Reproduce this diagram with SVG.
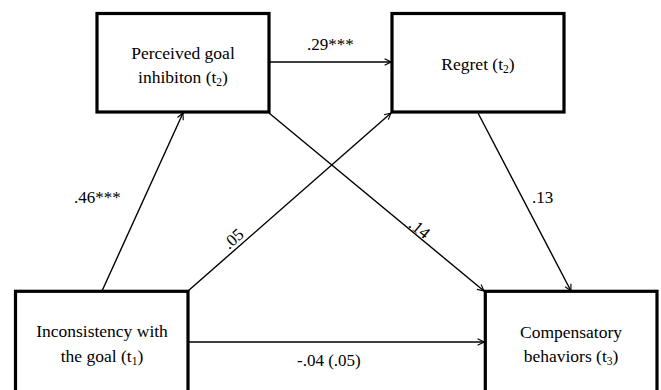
<svg xmlns="http://www.w3.org/2000/svg" width="661" height="390" viewBox="0 0 661 390">
<defs>
<marker id="ah" viewBox="0 0 10 10" refX="9" refY="5" markerWidth="8" markerHeight="8" markerUnits="userSpaceOnUse" orient="auto">
<path d="M1,1 L9,5 L1,9" fill="none" stroke="#000" stroke-width="1.4"/>
</marker>
<style>
.box{fill:#fff;stroke:#000;stroke-width:3.2}
.t{font-size:17.5px;fill:#000;text-anchor:middle}
.lbl{font-size:17px;fill:#000}
.c{fill:none;stroke:#000;stroke-width:1.4;marker-end:url(#ah)}
</style>
</defs>
<rect width="661" height="390" fill="#fff"/>
<g id="connectors" font-family="Liberation Serif, Times New Roman, DejaVu Serif, serif">
<line class="c" x1="269" y1="62" x2="391" y2="62"/>
<line class="c" x1="102" y1="291" x2="183" y2="113"/>
<line class="c" x1="188" y1="291" x2="391" y2="113"/>
<line class="c" x1="269" y1="113" x2="484" y2="291"/>
<line class="c" x1="478" y1="113" x2="571" y2="291"/>
<line class="c" x1="188" y1="342" x2="484" y2="342"/>
<text class="lbl" x="307" y="50">.29***</text>
<text class="lbl" x="74" y="203">.46***</text>
<text class="lbl" x="532" y="203">.13</text>
<text class="lbl" x="297" y="366">-.04 (.05)</text>
<text class="lbl" text-anchor="middle" transform="translate(237,243) rotate(-41.2)">.05</text>
<text class="lbl" text-anchor="middle" transform="translate(416,233) rotate(39.5)">.14</text>
</g>
<g id="perceived" font-family="Liberation Serif, Times New Roman, DejaVu Serif, serif">
<rect class="box" x="97" y="13.5" width="172" height="98.5"/>
<text class="t" x="183" y="59">Perceived goal</text>
<text class="t" x="183" y="83">inhibiton (t<tspan font-size="11.5" dy="3">2</tspan><tspan dy="-3">)</tspan></text>
</g>
<g id="regret" font-family="Liberation Serif, Times New Roman, DejaVu Serif, serif">
<rect class="box" x="392" y="13.5" width="172" height="98.5"/>
<text class="t" x="478" y="70">Regret (t<tspan font-size="11.5" dy="3">2</tspan><tspan dy="-3">)</tspan></text>
</g>
<g id="inconsistency" font-family="Liberation Serif, Times New Roman, DejaVu Serif, serif">
<rect class="box" x="15.5" y="291.3" width="172.5" height="110"/>
<text class="t" x="102" y="337">Inconsistency with</text>
<text class="t" x="102" y="362">the goal (t<tspan font-size="11.5" dy="3">1</tspan><tspan dy="-3">)</tspan></text>
</g>
<g id="compensatory" font-family="Liberation Serif, Times New Roman, DejaVu Serif, serif">
<rect class="box" x="485.3" y="291.3" width="171.7" height="110"/>
<text class="t" x="571" y="338">Compensatory</text>
<text class="t" x="571" y="362">behaviors (t<tspan font-size="11.5" dy="3">3</tspan><tspan dy="-3">)</tspan></text>
</g>
</svg>
